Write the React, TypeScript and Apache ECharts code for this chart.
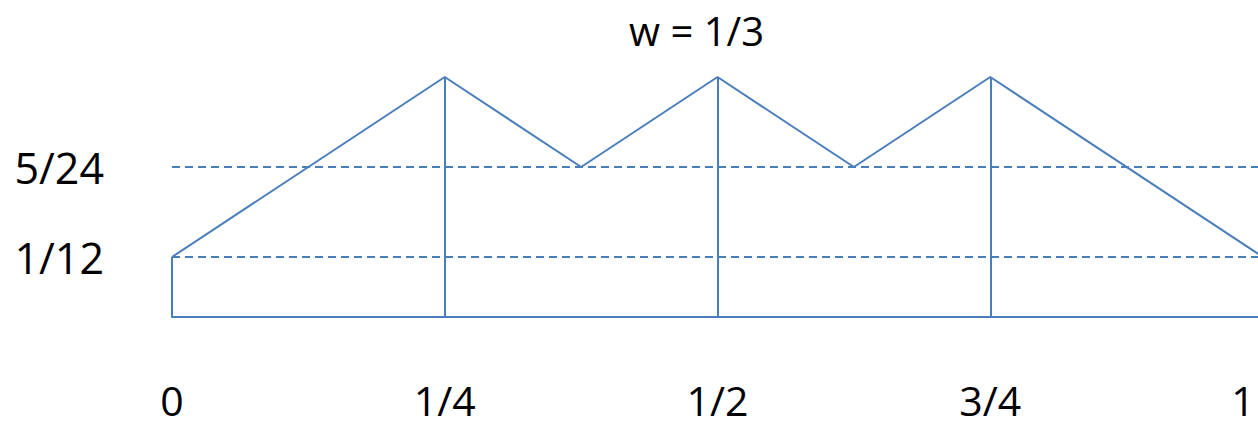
import React, { useEffect, useRef } from "react";
import * as echarts from "echarts";

// Piecewise-linear profile for w = 1/3 (slopes of ±1 between the knots)
const curveX = [0, 1 / 4, 3 / 8, 1 / 2, 5 / 8, 3 / 4, 1];
const curveY = [1 / 12, 1 / 3, 5 / 24, 1 / 3, 5 / 24, 1 / 3, 1 / 12];

// Vertical drop lines from the curve down to the base
const dropX = [0, 1 / 4, 1 / 2, 3 / 4];
const dropY = [1 / 12, 1 / 3, 1 / 3, 1 / 3];

// Dashed reference levels
const levelValues = [1 / 12, 5 / 24];
const levelLabels = ["1/12", "5/24"];

// x-axis ticks
const xTicks = [0, 0.25, 0.5, 0.75, 1];
const xTickLabels = ["0", "1/4", "1/2", "3/4", "1"];

const titleText = "w = 1/3";

const BLUE = "#4a7ebb";
const FONT = "Open Sans";

function labelFor(values: number[], labels: string[], v: number): string {
  const i = values.findIndex((x) => Math.abs(x - v) < 1e-6);
  return i >= 0 ? labels[i] : "";
}

export default function App() {
  const ref = useRef<HTMLDivElement>(null);

  useEffect(() => {
    if (!ref.current) return;
    const chart = echarts.init(ref.current, undefined, { renderer: "svg" });

    const dropLines = dropX.map((x, i) => [
      { coord: [x, 0] },
      { coord: [x, dropY[i]] },
    ]);
    const levelLines = levelValues.map((v) => [
      { coord: [0, v], lineStyle: { type: [8, 5], width: 2, color: BLUE } },
      { coord: [1, v] },
    ]);

    chart.setOption({
      animation: false,
      backgroundColor: "#ffffff",
      title: {
        text: titleText,
        left: 624,
        top: 5,
        textStyle: {
          fontFamily: FONT,
          fontSize: 40,
          fontWeight: "normal",
          color: "#000",
        },
      },
      grid: { left: 172, right: 27, top: 77, bottom: 110 },
      xAxis: {
        type: "value",
        min: 0,
        max: 1,
        axisLine: { show: true, lineStyle: { color: BLUE, width: 2 } },
        axisTick: { show: false },
        splitLine: { show: false },
        axisLabel: {
          customValues: xTicks,
          formatter: (v: number) => {
            const s = labelFor(xTicks, xTickLabels, v);
            // the last label sits at the right border; nudge it inward
            return v === 1 ? `{edge|${s}}` : s;
          },
          rich: {
            edge: {
              fontFamily: FONT,
              fontSize: 41,
              color: "#000",
              padding: [0, 40, 0, 0],
            },
          },
          margin: 62,
          fontFamily: FONT,
          fontSize: 41,
          color: "#000",
          showMinLabel: true,
          showMaxLabel: true,
        },
      },
      yAxis: {
        type: "value",
        min: 0,
        max: 1 / 3,
        axisLine: { show: false },
        axisTick: { show: false },
        splitLine: { show: false },
        axisLabel: {
          customValues: levelValues,
          formatter: (v: number) => labelFor(levelValues, levelLabels, v),
          margin: 68,
          fontFamily: FONT,
          fontSize: 43,
          color: "#000",
        },
      },
      series: [
        {
          type: "line",
          data: curveX.map((x, i) => [x, curveY[i]]),
          symbol: "none",
          lineStyle: { color: BLUE, width: 2 },
          markLine: {
            silent: true,
            symbol: "none",
            label: { show: false },
            lineStyle: { color: BLUE, width: 2, type: "solid" },
            data: [...dropLines, ...levelLines],
          },
        },
      ],
    });

    return () => chart.dispose();
  }, []);

  return (
    <div
      style={{
        position: "fixed",
        left: 0,
        top: 0,
        width: 1258,
        height: 427,
        overflow: "hidden",
        background: "#fff",
      }}
    >
      <div ref={ref} style={{ width: 1290, height: 427 }} />
    </div>
  );
}
